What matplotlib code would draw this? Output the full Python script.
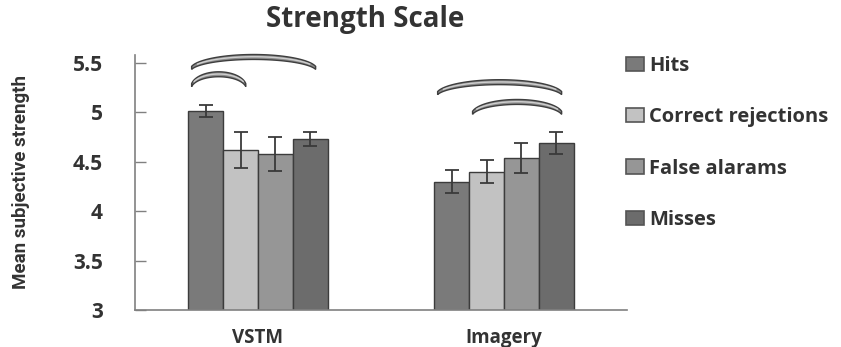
import numpy as np
import matplotlib
matplotlib.use('Agg')
import matplotlib.pyplot as plt
from matplotlib.patches import Patch, Polygon

# Mean subjective strength by response type
groups = ['VSTM', 'Imagery']
series = ['Hits', 'Correct rejections', 'False alarams', 'Misses']
hits = [5.01, 4.30]
correct_rej = [4.62, 4.40]
false_alarms = [4.58, 4.54]
misses = [4.73, 4.69]
hits_err = [0.06, 0.12]
correct_rej_err = [0.18, 0.12]
false_alarms_err = [0.17, 0.15]
misses_err = [0.07, 0.11]

# significance brackets: (group index, first bar, last bar, arc top)
brackets = [(0, 0, 3, 5.585), (0, 0, 1, 5.41), (1, 0, 3, 5.33), (1, 1, 3, 5.13)]

colors = ['#7a7a7a', '#c2c2c2', '#969696', '#6c6c6c']
means = [hits, correct_rej, false_alarms, misses]
errs = [hits_err, correct_rej_err, false_alarms_err, misses_err]

plt.rcParams['font.family'] = 'Open Sans'

fig = plt.figure(figsize=(8.41, 3.47), dpi=100)
ax = fig.add_axes([135 / 841, 37 / 347, 492 / 841, 255 / 347])

x = np.arange(len(groups))
w = 0.142
offsets = (np.arange(len(series)) - 1.5) * w
for k in range(len(series)):
    ax.bar(x + offsets[k], means[k], w, bottom=0, color=colors[k],
           edgecolor='#3c3c3c', linewidth=1.0, label=series[k], zorder=2)
    ax.errorbar(x + offsets[k], means[k], yerr=errs[k], fmt='none',
                ecolor='#3a3a3a', elinewidth=1.3, capsize=5, capthick=1.3, zorder=3)


def arc(x0, x1, top, drop=0.12, thick=0.05):
    t = np.linspace(np.radians(12), np.radians(168), 80)
    xc, rx = (x0 + x1) / 2, (x1 - x0) / 2 / np.cos(np.radians(12))
    taper = 0.5 + 0.5 * np.sin(t)
    ry = drop / (1 - np.sin(np.radians(12)))
    base = top - ry
    xs = xc + rx * np.cos(t)
    outer = base + ry * np.sin(t)
    inner = outer - thick * taper
    pts = np.column_stack([np.r_[xs, xs[::-1]], np.r_[outer, inner[::-1]]])
    ax.add_patch(Polygon(pts, closed=True, facecolor='#8c8c8c', edgecolor='#3e3e3e',
                         linewidth=1.0, clip_on=False, zorder=4))
    ax.plot(xs[8:-8], (outer - thick * taper * 0.45)[8:-8], color='#cfcfcf',
            lw=1.0, clip_on=False, zorder=5)


for g, i, j, top in brackets:
    arc(x[g] + offsets[i] - 0.4 * w, x[g] + offsets[j] + 0.15 * w, top)

ax.set_xlim(-0.5, 1.5)
ax.set_ylim(3, 5.58)
ax.set_yticks([3, 3.5, 4, 4.5, 5, 5.5])
ax.set_yticklabels(['3', '3.5', '4', '4.5', '5', '5.5'])
ax.set_xticks(x)
ax.set_xticklabels(groups, fontsize=13.5, fontweight='bold', color='#333333')
ax.tick_params(axis='x', length=0, pad=13)
ax.tick_params(axis='y', direction='in', length=8, width=1, color='#808080',
               labelsize=15, pad=23, labelcolor='#333333')
for lbl in ax.get_yticklabels():
    lbl.set_fontweight('bold')
for s in ['top', 'right']:
    ax.spines[s].set_visible(False)
for s in ['left', 'bottom']:
    ax.spines[s].set_color('#808080')
    ax.spines[s].set_linewidth(1.2)

fig.text(21 / 841, 1 - 182 / 347, 'Mean subjective strength',
         rotation=90, ha='center', va='center', fontsize=13.5, fontweight='bold',
         family='Roboto', color='#333333')
fig.text(365 / 841, 1 - 20 / 347, 'Strength Scale', ha='center', va='center',
         fontsize=20, fontweight='bold', color='#333333')

handles = [Patch(facecolor=c, edgecolor='#555555', linewidth=1.2) for c in colors]
fig.legend(handles, series, loc='upper left', bbox_to_anchor=(608 / 841, 1 - 38 / 347),
           frameon=False, handlelength=0.9, handleheight=0.7, handletextpad=0.25,
           labelspacing=1.55, prop={'weight': 'bold', 'size': 14.5, 'family': 'Open Sans'},
           labelcolor='#333333')

fig.savefig('out.png', dpi=100)
